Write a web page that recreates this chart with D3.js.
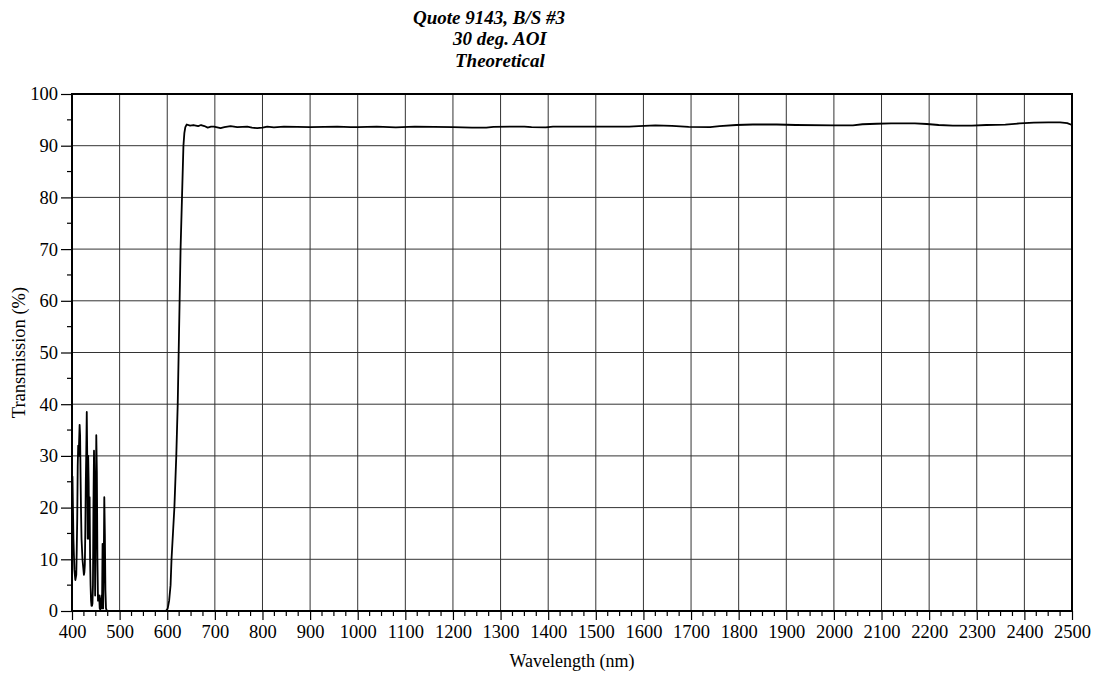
<!DOCTYPE html>
<html>
<head>
<meta charset="utf-8">
<script src="https://cdn.jsdelivr.net/npm/d3@7"></script>
<style>
  html, body { margin: 0; padding: 0; background: #fff; }
  svg { display: block; }
  text { font-family: "Liberation Serif", "Times New Roman", serif; fill: #000; }
</style>
</head>
<body>
<svg id="chart" width="1097" height="675"></svg>
<script>
// Title lines
const titleLines = ["Quote 9143, B/S #3", "30 deg. AOI", "Theoretical"];

// Axis ticks
const xMajorTicks = d3.range(400, 2501, 100);
const xMinorTicks = d3.range(400, 2501, 25).filter(v => v % 100 !== 0);
const yMajorTicks = d3.range(0, 101, 10);
const yMinorTicks = d3.range(5, 100, 10);

// Theoretical transmission spectrum: wavelength (nm) and transmission (%)
const wavelength = [
  400, 401, 402, 403, 405, 407, 409, 410, 411, 412, 413, 414, 415, 416, 417, 418, 419, 420, 422, 424, 425, 426,
  427, 428, 429, 430, 431, 432, 433, 434, 435, 436, 437, 438, 439, 440, 441, 442, 443, 444, 445, 446.2, 447.4,
  448.6, 449.8, 451, 452.2, 453.4, 454.6, 455.8, 457, 458.2, 459.4, 460.6, 461.8, 463, 464.2, 465.4, 466.6, 467.8, 469, 470.2, 471.4, 472.6,
  474, 477, 500, 550, 590, 596, 598, 600, 601, 602, 604, 605, 607, 609, 612, 615, 619, 622, 624, 626, 628,
  631, 634, 636, 638, 641, 648, 655, 665, 671, 678, 685, 692, 698, 705, 712, 720, 733, 747, 758, 768, 778,
  789, 800, 810, 824, 845, 873, 900, 930, 957, 985, 1000, 1040, 1080, 1120, 1160, 1200, 1240, 1270, 1285,
  1350, 1365, 1395, 1410, 1570, 1590, 1625, 1660, 1695, 1740, 1760, 1795, 1830, 1880, 1920, 2000, 2040,
  2060, 2090, 2120, 2170, 2195, 2220, 2250, 2290, 2320, 2360, 2390, 2420, 2450, 2475, 2490, 2500
];
const transmission = [
  22, 26, 20, 14, 8, 6, 7, 12, 18, 28, 32, 30, 33, 36, 34, 26, 19, 14, 10, 8, 7, 7.5,
  9, 16, 25, 31, 38.5, 30, 14, 30, 25, 14, 22, 10, 5, 2, 1, 1, 1.5, 5, 20, 31, 22,
  3, 16, 34, 27, 10, 2, 2.5, 3, 0.5, 0.3, 2, 3, 0.5, 13, 0.5, 8, 22, 15, 4, 0.5, 0.2,
  0, 0, 0, 0, 0, 0, 0.1, 0.3, 0.5, 1, 2, 3, 5, 10, 15, 20, 30, 40, 50, 60, 70,
  80, 90, 92.5, 93.6, 94.1, 93.9, 94.0, 93.8, 94.0, 93.8, 93.5, 93.7, 93.7, 93.55, 93.4, 93.6, 93.8, 93.6, 93.65, 93.7, 93.5,
  93.4, 93.5, 93.7, 93.55, 93.7, 93.65, 93.6, 93.65, 93.7, 93.6, 93.6, 93.7, 93.55, 93.7, 93.65, 93.6, 93.5, 93.5, 93.65,
  93.7, 93.6, 93.55, 93.7, 93.7, 93.8, 93.95, 93.85, 93.65, 93.6, 93.8, 94.0, 94.1, 94.1, 94.0, 93.95, 93.95,
  94.15, 94.25, 94.3, 94.3, 94.2, 94.0, 93.9, 93.88, 94.0, 94.07, 94.3, 94.45, 94.5, 94.5, 94.35, 94.0
];

const svg = d3.select("#chart");
const plot = { left: 72, right: 1072, top: 94, bottom: 611 };

const x = d3.scaleLinear().domain([400, 2500]).range([plot.left, plot.right]);
const y = d3.scaleLinear().domain([0, 100]).range([plot.bottom, plot.top]);

// Grid
const grid = svg.append("g").attr("stroke", "#333").attr("stroke-width", 1);
grid.selectAll("line.vx").data(xMajorTicks.slice(1, -1)).join("line")
  .attr("x1", d => x(d)).attr("x2", d => x(d))
  .attr("y1", plot.top).attr("y2", plot.bottom);
grid.selectAll("line.hy").data(yMajorTicks.slice(1, -1)).join("line")
  .attr("x1", plot.left).attr("x2", plot.right)
  .attr("y1", d => y(d)).attr("y2", d => y(d));

// Bottom axis
const xAxis = d3.axisBottom(x).tickValues(xMajorTicks).tickSize(9).tickPadding(5).tickFormat(d3.format("d"));
const gx = svg.append("g").attr("transform", `translate(0,${plot.bottom})`).call(xAxis);
gx.select(".domain").remove();
gx.selectAll(".tick line").attr("stroke", "#000").attr("stroke-width", 1.2);
gx.selectAll(".tick text").attr("font-size", 18.5).attr("font-family", "Liberation Serif, serif").attr("fill", "#000");
svg.append("g").selectAll("line").data(xMinorTicks).join("line")
  .attr("x1", d => x(d)).attr("x2", d => x(d))
  .attr("y1", plot.bottom).attr("y2", plot.bottom + 5)
  .attr("stroke", "#000").attr("stroke-width", 1.2);

// Left axis
const yAxis = d3.axisLeft(y).tickValues(yMajorTicks).tickSize(11).tickPadding(3).tickFormat(d3.format("d"));
const gy = svg.append("g").attr("transform", `translate(${plot.left},0)`).call(yAxis);
gy.select(".domain").remove();
gy.selectAll(".tick line").attr("stroke", "#000").attr("stroke-width", 1.2);
gy.selectAll(".tick text").attr("font-size", 18.5).attr("font-family", "Liberation Serif, serif").attr("fill", "#000");
svg.append("g").selectAll("line").data(yMinorTicks).join("line")
  .attr("x1", plot.left - 5).attr("x2", plot.left)
  .attr("y1", d => y(d)).attr("y2", d => y(d))
  .attr("stroke", "#000").attr("stroke-width", 1.2);

// Frame
svg.append("rect")
  .attr("x", plot.left).attr("y", plot.top)
  .attr("width", plot.right - plot.left).attr("height", plot.bottom - plot.top)
  .attr("fill", "none").attr("stroke", "#000").attr("stroke-width", 2);

// Spectrum
const line = d3.line().x((d, i) => x(wavelength[i])).y(d => y(d));
svg.append("path")
  .datum(transmission)
  .attr("d", line)
  .attr("fill", "none")
  .attr("stroke", "#000")
  .attr("stroke-width", 1.8)
  .attr("stroke-linejoin", "round");

// Title
const titleX = [413, 453, 455];
const titleY = [24, 45, 67];
svg.append("g").selectAll("text").data(titleLines).join("text")
  .attr("x", (d, i) => titleX[i]).attr("y", (d, i) => titleY[i])
  .attr("font-size", 19).attr("font-weight", "bold").attr("font-style", "italic")
  .text(d => d);

// Axis titles
svg.append("text")
  .attr("x", (plot.left + plot.right) / 2).attr("y", 667)
  .attr("text-anchor", "middle").attr("font-size", 18)
  .text("Wavelength (nm)");
svg.append("text")
  .attr("transform", `translate(25,${(plot.top + plot.bottom) / 2}) rotate(-90)`)
  .attr("text-anchor", "middle").attr("font-size", 18.5)
  .text("Transmission (%)");
</script>
</body>
</html>
